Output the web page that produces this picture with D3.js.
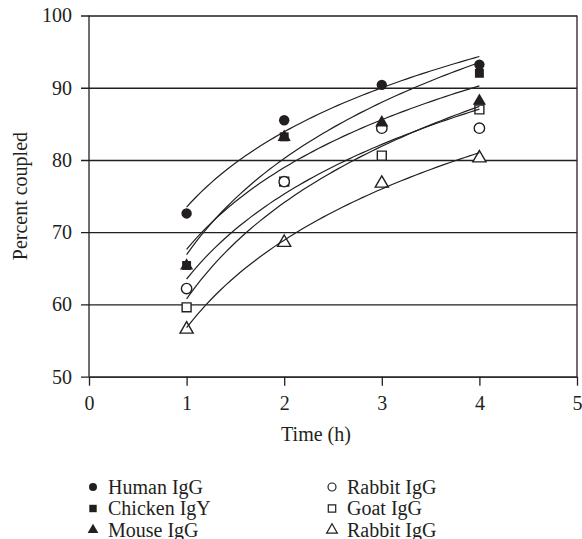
<!DOCTYPE html>
<html>
  <head>
    <meta charset="utf-8">
    <style>
    body { margin: 0; background: #fff; }
    text {
      font-family: "Liberation Serif", "DejaVu Serif", serif;
      font-size: 20px;
      fill: #231f20;
    }
    .grid line, .frame { stroke: #231f20; stroke-width: 1.3px; }
    .fit { fill: none; stroke: #231f20; stroke-width: 1.2px; }
    </style>
  </head>
  <body>
    <script src="https://d3js.org/d3.v7.min.js"></script>
    <script>

    // time points (h)
    var times = [1, 2, 3, 4];

    // percent coupled per antibody (null = no point)
    var humanIgG   = [72.6, 85.5, 90.4, 93.2];
    var chickenIgY = [65.4, 83.2, null, 92.0];
    var mouseIgG   = [65.5, 83.3, 85.3, 88.3];
    var rabbitIgG  = [62.2, 77.0, 84.4, 84.4];
    var goatIgG    = [59.6, 77.0, 80.6, 87.0];
    var rabbitIgG2 = [56.7, 68.7, 76.9, 80.4];

    var xTicks = [0, 1, 2, 3, 4, 5];
    var yTicks = [50, 60, 70, 80, 90, 100];

    var series = [
      {name: "Human IgG",   values: humanIgG,   shape: d3.symbolCircle,   filled: true},
      {name: "Chicken IgY", values: chickenIgY, shape: d3.symbolSquare,   filled: true},
      {name: "Mouse IgG",   values: mouseIgG,   shape: d3.symbolTriangle, filled: true},
      {name: "Rabbit IgG",  values: rabbitIgG,  shape: d3.symbolCircle,   filled: false},
      {name: "Goat IgG",    values: goatIgG,    shape: d3.symbolSquare,   filled: false},
      {name: "Rabbit IgG",  values: rabbitIgG2, shape: d3.symbolTriangle, filled: false}
    ];

    var width = 582, height = 539;
    var ink = "#231f20";

    var x = d3.scaleLinear().domain([0, 5]).range([89, 577]);
    var y = d3.scaleLinear().domain([50, 100]).range([376.7, 15.5]);

    var svg = d3.select("body").append("svg")
        .attr("width", width)
        .attr("height", height);

    // horizontal grid lines with left ticks
    var yAxis = svg.append("g")
        .attr("class", "grid")
        .attr("transform", "translate(" + x(0) + ",0)")
        .call(d3.axisLeft(y).tickValues(yTicks)
          .tickSize(-(x(5) - x(0))).tickSizeOuter(0).tickPadding(17));
    yAxis.select(".domain").remove();
    yAxis.selectAll(".tick line").attr("x1", -8).attr("stroke", ink);
    yAxis.selectAll("text").attr("fill", null).style("font-size", "20px")
        .style("font-family", "Liberation Serif");

    var xAxis = svg.append("g")
        .attr("class", "grid")
        .attr("transform", "translate(0," + y(50) + ")")
        .call(d3.axisBottom(x).tickValues(xTicks).tickFormat(d3.format("d"))
          .tickSize(9).tickSizeOuter(0).tickPadding(10));
    xAxis.select(".domain").attr("stroke", ink).attr("stroke-width", 1.3);
    xAxis.selectAll(".tick line").attr("stroke", ink);
    xAxis.selectAll("text").attr("fill", null).style("font-size", "20px")
        .style("font-family", "Liberation Serif");

    // plot frame: left and right edges
    svg.append("line").attr("class", "frame")
        .attr("x1", x(0)).attr("x2", x(0)).attr("y1", y(100)).attr("y2", y(50));
    svg.append("line").attr("class", "frame")
        .attr("x1", x(5)).attr("x2", x(5)).attr("y1", y(100)).attr("y2", y(50));

    // markers: open ones first, then filled
    var drawOrder = [5, 4, 3, 2, 1, 0];
    drawOrder.forEach(function(i) {
      var s = series[i];
      var pts = times.map(function(t, j) { return {t: t, v: s.values[j]}; })
          .filter(function(d) { return d.v != null; });
      var size = s.shape === d3.symbolTriangle ? 75 : (s.shape === d3.symbolSquare ? 80 : 85);
      svg.append("g").selectAll("path")
        .data(pts)
        .enter().append("path")
          .attr("d", d3.symbol().type(s.shape).size(size))
          .attr("transform", function(d) {
            var dy = s.shape === d3.symbolTriangle ? 1 : 0;
            return "translate(" + x(d.t) + "," + (y(d.v) + dy) + ")";
          })
          .attr("fill", s.filled ? ink : "#fff")
          .attr("stroke", ink)
          .attr("stroke-width", s.filled ? 0 : 1.4);
    });

    // logarithmic trend line y = a + b ln(t), fitted to each series
    function logFit(vals) {
      var pts = times.map(function(t, j) { return [Math.log(t), vals[j]]; })
          .filter(function(p) { return p[1] != null; });
      var mx = d3.mean(pts, function(p) { return p[0]; });
      var my = d3.mean(pts, function(p) { return p[1]; });
      var sxy = d3.sum(pts, function(p) { return (p[0] - mx) * (p[1] - my); });
      var sxx = d3.sum(pts, function(p) { return (p[0] - mx) * (p[0] - mx); });
      var b = sxy / sxx;
      return {a: my - b * mx, b: b};
    }

    var line = d3.line()
        .x(function(d) { return x(d[0]); })
        .y(function(d) { return y(d[1]); });

    series.forEach(function(s) {
      var f = logFit(s.values);
      var curve = d3.range(1, 4.001, 0.05).map(function(t) {
        return [t, f.a + f.b * Math.log(t)];
      });
      svg.append("path").attr("class", "fit").attr("d", line(curve));
    });

    // axis titles
    svg.append("text")
        .attr("transform", "translate(27," + ((y(50) + y(100)) / 2) + ") rotate(-90)")
        .attr("text-anchor", "middle")
        .text("Percent coupled");

    svg.append("text")
        .attr("x", 316).attr("y", 441)
        .attr("text-anchor", "middle")
        .text("Time (h)");

    // legend, two columns of three
    var legend = svg.append("g");
    series.forEach(function(s, i) {
      var col = Math.floor(i / 3), row = i % 3;
      var lx = col === 0 ? 93 : 332, ly = 487 + row * 21.5;
      var size = s.shape === d3.symbolTriangle ? 50 : (s.shape === d3.symbolSquare ? 55 : 50);
      legend.append("path")
          .attr("d", d3.symbol().type(s.shape).size(size))
          .attr("transform", "translate(" + lx + "," + ly + ")")
          .attr("fill", s.filled ? ink : "#fff")
          .attr("stroke", ink)
          .attr("stroke-width", s.filled ? 0 : 1.2);
      legend.append("text")
          .attr("x", lx + 15).attr("y", ly + 6.5)
          .text(s.name);
    });

    </script>
  </body>
</html>
